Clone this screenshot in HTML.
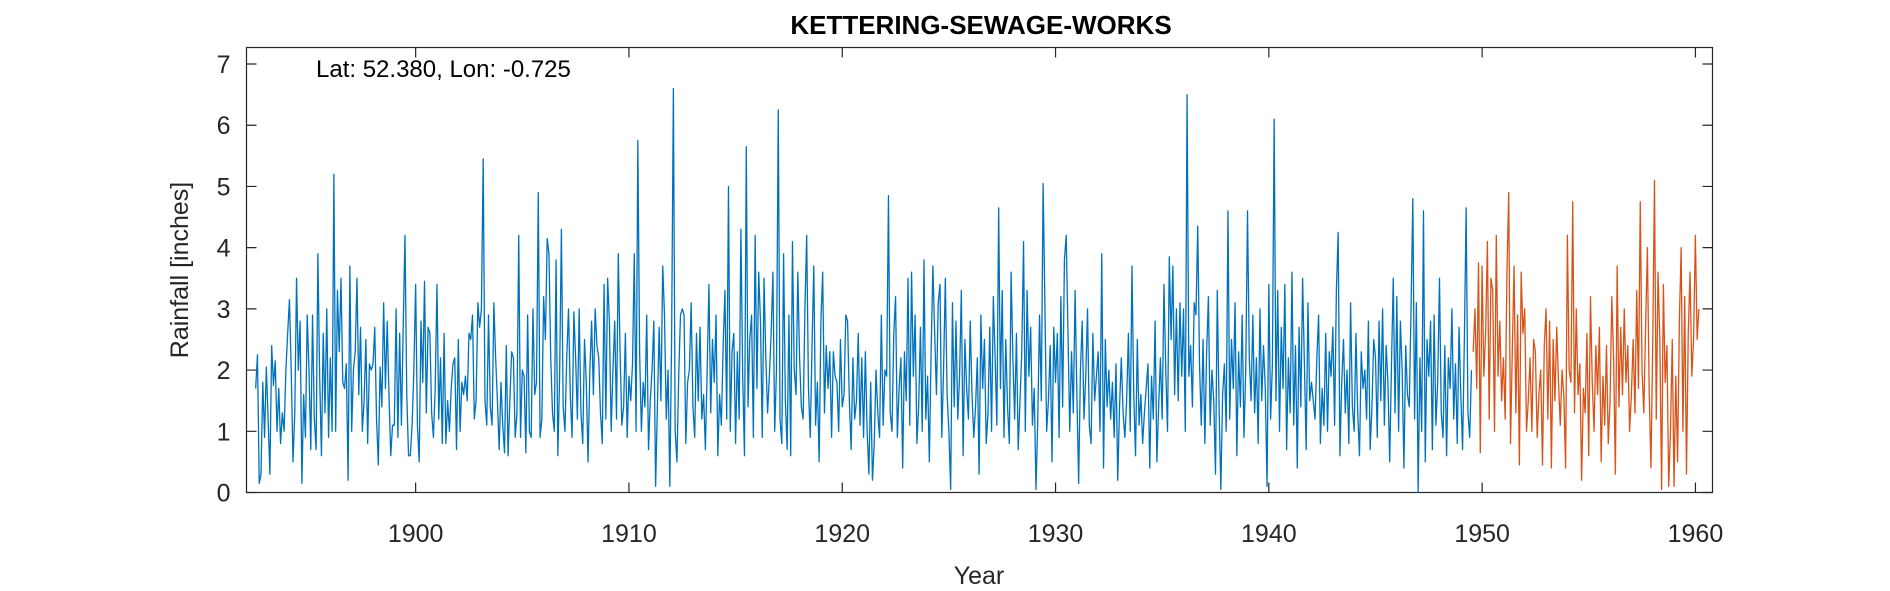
<!DOCTYPE html>
<html><head><meta charset="utf-8"><style>
html,body{margin:0;padding:0;background:#fff;}
svg{display:block;font-family:"Liberation Sans",Arial,sans-serif;}
</style></head><body>
<svg id="chart" width="1890" height="591" viewBox="0 0 1890 591">
<text x="981" y="34" text-anchor="middle" font-size="26" font-weight="bold" fill="#000">KETTERING-SEWAGE-WORKS</text>
<rect x="246.5" y="47.5" width="1466" height="445" fill="none" stroke="#262626" stroke-width="1.2"/>
<g id="yticks"></g>
<g id="xticks"></g>
<text x="979" y="584" text-anchor="middle" font-size="25" fill="#262626">Year</text>
<text transform="translate(188,270) rotate(-90)" text-anchor="middle" font-size="25" fill="#262626">Rainfall [inches]</text>
<text x="316" y="77" font-size="24" fill="#000">Lat: 52.380, Lon: -0.725</text>
<g id="series"></g>
</svg>
<script>
const startBlue = 1892.5;
const blueValues = [
1.7,2.25,0.15,0.3,1.8,0.9,
2.05,1.2,0.3,2.4,1.75,2.15,1.0,1.7,0.8,1.3,1.0,2.0,
2.6,3.15,2.0,0.5,1.3,3.5,2.0,2.8,0.15,1.6,0.9,2.9,
2.0,0.7,2.9,1.2,0.7,3.9,1.9,0.6,2.6,1.3,3.0,0.9,
2.2,1.0,5.2,1.0,3.3,2.3,3.5,1.8,1.7,2.1,0.2,3.7,
1.0,2.0,2.3,3.5,1.6,2.7,1.0,1.5,2.5,0.8,2.1,2.0,
2.1,2.7,1.2,0.45,2.05,1.4,3.1,1.7,2.8,1.6,0.6,1.1,
1.1,3.0,0.9,2.6,1.1,2.7,4.2,1.6,0.6,0.6,1.1,2.0,
3.4,1.1,0.5,2.8,1.8,3.45,1.3,2.7,2.6,1.3,0.9,1.7,
3.4,1.2,2.2,0.8,2.6,0.8,1.5,1.0,1.7,2.1,2.2,0.7,
2.5,1.0,1.8,1.6,1.9,1.5,2.6,2.5,2.9,1.2,1.5,3.1,
2.7,3.0,5.45,1.5,1.1,2.9,1.4,1.1,3.1,2.2,1.5,0.7,
1.8,1.1,0.65,2.4,0.6,1.5,2.3,2.2,0.9,1.3,4.2,0.9,
2.0,1.9,0.65,2.9,1.0,0.9,3.0,1.6,1.8,4.9,0.9,1.2,
3.2,2.5,4.15,3.9,2.2,1.3,1.0,3.8,0.6,1.9,4.3,1.4,
1.0,2.2,3.0,1.6,0.9,2.95,2.2,1.2,3.0,1.3,0.8,2.5,
1.8,0.5,2.0,2.8,1.6,3.0,2.4,2.2,1.3,0.8,3.4,1.2,
3.5,2.8,1.0,2.0,2.8,1.2,3.9,2.3,1.1,1.4,2.6,0.9,
1.9,1.5,2.1,3.9,1.0,5.75,2.3,1.0,1.8,1.4,2.9,0.7,
1.5,2.0,2.8,0.1,1.4,2.7,1.5,3.7,2.9,1.2,2.0,0.1,
2.5,6.6,1.0,0.5,1.9,2.9,3.0,2.9,0.8,1.8,2.0,3.1,
1.4,0.9,2.6,1.5,2.7,1.2,1.6,0.7,2.0,3.4,1.3,2.5,
1.8,2.9,0.6,1.6,1.1,2.4,3.3,1.2,5.0,1.0,2.3,2.6,
0.8,2.3,1.2,4.3,1.9,0.6,5.65,1.4,2.5,2.9,0.9,4.2,
1.7,3.6,2.8,0.9,3.5,2.2,1.3,1.9,2.6,3.6,1.0,2.0,
6.25,1.2,0.8,3.9,1.5,0.7,2.9,0.6,4.1,2.0,1.6,3.6,
2.2,1.4,1.2,3.0,4.2,1.7,0.9,2.4,3.7,1.1,1.8,0.5,
2.8,3.6,1.3,2.4,1.7,2.3,0.9,2.3,1.9,1.8,1.0,2.5,
1.4,1.6,2.9,2.8,1.5,0.7,2.2,1.2,1.5,2.6,1.1,2.2,
0.9,2.3,1.0,0.3,1.8,0.2,0.8,2.0,1.3,0.9,2.9,1.1,
2.0,1.9,4.85,1.3,1.0,2.6,3.2,0.9,1.7,2.2,0.4,2.3,
1.5,3.5,1.1,3.6,1.9,2.9,0.8,1.4,2.7,1.0,3.8,1.2,
1.9,0.5,2.3,3.7,2.6,1.6,3.1,3.4,0.9,2.0,3.5,1.6,
1.0,0.05,3.1,1.4,2.8,1.2,1.9,3.3,0.6,2.5,1.7,1.2,
2.8,1.6,0.9,1.4,2.2,0.3,2.9,1.7,2.5,0.8,1.3,2.7,
1.0,3.2,2.2,1.1,4.65,1.7,3.3,0.9,2.5,1.4,0.8,3.6,
2.2,1.2,2.6,0.7,1.5,2.3,4.1,1.0,3.3,1.9,2.7,1.1,
1.7,0.05,1.2,2.9,1.5,5.05,3.1,1.0,1.5,2.4,0.5,2.7,
1.8,2.6,0.9,3.2,1.4,3.8,4.2,2.6,1.0,2.3,1.3,3.3,
1.6,0.15,2.0,2.8,1.2,1.9,3.0,1.1,0.8,2.6,1.5,1.9,
2.3,1.0,3.9,0.4,2.5,1.4,2.0,1.2,1.8,0.9,2.1,0.2,
1.4,2.2,1.3,0.9,1.5,2.6,1.0,3.7,1.6,0.6,2.5,1.1,
1.6,0.8,1.3,1.7,2.1,0.4,1.9,1.2,2.8,0.5,1.4,2.2,
1.2,3.4,2.0,1.0,3.85,2.5,3.7,1.6,3.0,1.5,3.1,1.9,
3.0,1.0,6.5,1.9,2.4,1.4,3.1,2.9,4.35,2.1,1.1,2.5,
0.8,2.3,3.2,1.1,2.0,1.5,0.3,3.3,1.4,0.05,1.6,2.1,
1.0,4.6,1.2,2.5,1.7,3.1,0.6,2.3,1.4,2.9,0.9,2.0,
4.6,2.2,1.5,2.9,1.3,2.2,0.8,3.0,1.5,2.4,1.7,0.1,
3.4,1.2,2.1,6.1,1.5,3.3,1.0,2.7,1.7,3.4,0.7,2.2,
1.3,3.6,1.1,2.4,0.4,2.7,1.4,3.5,2.1,0.7,3.1,1.5,
1.8,1.5,1.2,2.2,2.9,0.8,1.7,1.1,2.6,1.0,2.3,1.9,
2.7,1.1,3.3,4.25,0.6,1.8,2.5,1.3,2.0,0.8,3.1,1.4,
1.0,2.6,1.3,0.6,2.3,1.7,2.0,1.2,2.8,0.7,1.4,2.5,
2.2,0.9,2.8,1.5,3.0,1.1,2.4,1.8,0.5,2.1,3.5,1.3,
3.2,1.0,2.8,2.0,0.4,2.4,1.6,1.4,3.0,4.8,1.2,3.1,
0.0,2.2,1.0,4.6,0.5,2.5,1.9,2.8,0.7,2.9,1.1,1.8,
3.5,1.3,0.9,2.4,0.6,2.2,1.7,3.0,1.2,2.1,0.8,2.7,
1.6,0.7,2.5,4.65,1.3,0.9,2.0
];
const startOrange = 1949.58;
const orangeValues = [
2.3,3.0,1.7,3.75,0.65,
3.7,1.9,2.6,4.1,1.2,3.5,3.3,1.0,4.2,1.9,2.8,1.5,
2.2,1.2,3.6,4.9,0.8,2.3,3.7,1.3,2.9,0.45,3.6,2.6,
3.0,1.0,1.5,2.2,1.0,2.5,2.3,0.9,1.6,2.0,0.45,2.4,
3.0,1.2,2.8,0.4,2.5,1.5,2.7,1.8,1.1,2.0,1.6,0.4,
4.2,2.0,1.8,4.75,1.3,3.0,1.6,2.1,0.2,1.7,1.3,2.6,
0.6,3.2,1.8,1.0,2.4,1.6,2.7,0.5,1.9,1.1,2.4,0.8,
1.5,3.2,2.2,0.3,3.7,1.4,2.7,1.6,3.0,1.8,2.4,1.0,
1.6,2.5,1.3,3.3,1.7,4.75,2.0,1.3,2.7,4.0,1.7,0.4,
2.4,5.1,1.2,3.6,2.5,0.05,3.4,1.8,2.4,0.1,1.0,2.5,
0.1,1.9,0.5,2.8,4.0,1.0,3.2,0.3,2.6,3.6,1.9,2.5,
4.2,2.5,3.0
];
const xTickLabels = [1900,1910,1920,1930,1940,1950,1960];
const yTickLabels = [0,1,2,3,4,5,6,7];

const NS = "http://www.w3.org/2000/svg";
const X0 = 246.5, X1 = 1712.5, Y0 = 492.5, Y1 = 47.5;
const tMin = 1892.07, tMax = 1960.8, vMax = 7.27;
function xs(t){ return X0 + (t - tMin) / (tMax - tMin) * (X1 - X0); }
function ys(v){ return Y0 - v / vMax * (Y0 - Y1); }
function mk(tag, attrs, parent){
  const el = document.createElementNS(NS, tag);
  for (const k in attrs) el.setAttribute(k, attrs[k]);
  parent.appendChild(el);
  return el;
}
const yg = document.getElementById('yticks');
yTickLabels.forEach(v => {
  const y = ys(v);
  const a = mk('path', {d:`M${X0},${y}h10M${X1},${y}h-10`, stroke:'#262626', 'stroke-width':1.2}, yg);
  
  
  const t = mk('text', {x:X0-16, y:y+9, 'text-anchor':'end', 'font-size':25, fill:'#262626'}, yg);
  t.textContent = v;
  
  
});
const xg = document.getElementById('xticks');
xTickLabels.forEach(v => {
  const x = xs(v);
  const a = mk('path', {d:`M${x},${Y0}v-10M${x},${Y1}v10`, stroke:'#262626', 'stroke-width':1.2}, xg);
  
  
  const t = mk('text', {x:x, y:542, 'text-anchor':'middle', 'font-size':25, fill:'#262626'}, xg);
  t.textContent = v;
  
  
});
const sg = document.getElementById('series');
function line(vals, start, color, name){
  const d = vals.map((v,i) => (i?'L':'M') + xs(start + i/12).toFixed(2) + ',' + ys(v).toFixed(2)).join('');
  const p = mk('path', {d:d, fill:'none', stroke:color, 'stroke-width':1.3, 'stroke-linejoin':'round'}, sg);
  
  
}
line(blueValues, startBlue, '#0072BD', 'rainfall-line-historic');
line(orangeValues, startOrange, '#D95319', 'rainfall-line-recent');
</script>
</body></html>
